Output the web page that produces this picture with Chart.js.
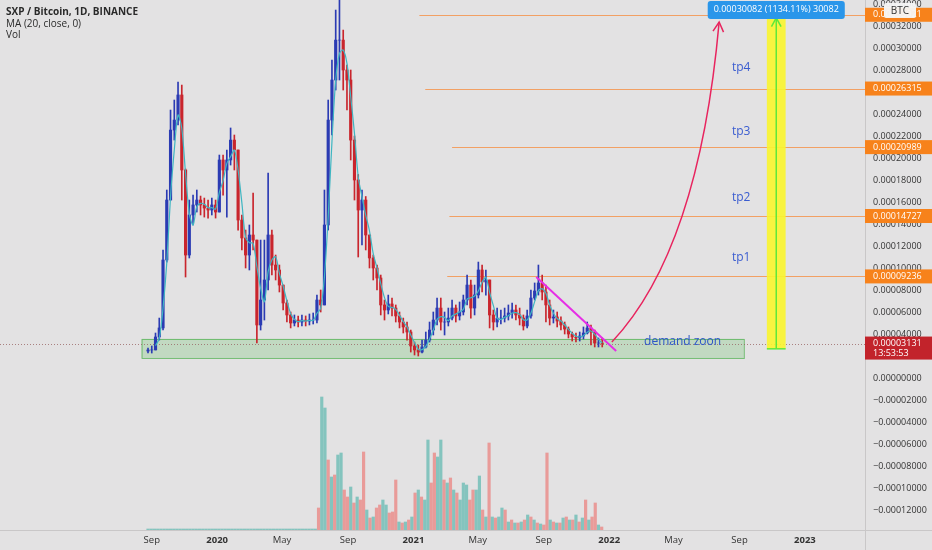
<!DOCTYPE html>
<html>
<head>
<meta charset="utf-8">
<script src="https://cdn.jsdelivr.net/npm/chart.js@4.4.1/dist/chart.umd.min.js"></script>
<style>
html, body { margin: 0; padding: 0; background: #e3e2e3; }
#wrap { width: 932px; height: 550px; }
</style>
</head>
<body>
<div id="wrap"><canvas id="chart" width="932" height="550"></canvas></div>
<script>
// SXP/BTC, prices in satoshi (1e-8 BTC). Weekly candles.
const firstCandle = '2019-08-25';
const firstOpen = 2450;
const closes = [2550,2550,3730,4550,10730,16180,22540,23450,25730,18910,
  11180,14820,15730,16180,15730,15450,15270,15730,15090,19820,
  18910,19820,21630,20730,14360,12730,11180,13000,12540,4820,
  7090,8910,13000,10270,9820,8450,6820,5730,5000,5270,
  5090,5270,5180,5270,5270,7090,6640,13910,23450,27090,
  30720,30720,28000,27090,21630,18000,15270,16180,13000,10910,
  10000,9090,6640,6180,6730,6360,5640,5090,4640,4180,
  2910,2550,2360,2820,3450,4360,5270,6360,5090,5090,
  5450,6360,5640,6000,7090,8450,6360,7550,9820,8730,
  8910,5730,5090,5450,5450,5640,5910,6180,5730,5450,
  4730,5640,7270,7910,8640,7820,6640,5450,5550,5180,
  4820,4450,4000,3730,3640,3820,4090,4550,4180,3180,
  3180,3131];
const highs = [2730,2910,4090,5450,11640,17090,24360,25270,26910,26630,
  19000,16180,16630,17090,16540,16360,16180,16360,16180,20270,
  20270,20730,22730,22090,20730,14820,13450,13910,16820,12540,
  12540,12540,18630,13450,11180,10270,8450,7090,6000,5730,
  5640,5730,5640,5820,5910,7540,8000,17090,25270,28910,
  33450,34540,31630,28450,28000,22000,18500,17090,16500,13000,
  11180,10270,9360,7090,7540,7270,6640,6000,5450,5090,
  4360,3270,3000,3450,4180,5090,6000,7270,7270,6000,
  6360,7090,6640,6910,7540,9360,8910,8450,10540,10270,
  9820,8910,6180,6360,6180,6360,6640,6820,6640,6360,
  5730,6180,8000,8640,10270,9360,8450,7090,6180,6000,
  5550,5090,4640,4180,4090,4180,4640,5090,4820,4360,
  3640,3640];
const lows = [2270,2270,2550,3450,4360,10540,16180,21630,23000,16180,
  9180,10910,13910,15090,14820,14630,14540,14820,14540,15090,
  16630,14630,19360,18910,13450,11640,10000,9820,11640,3180,
  4360,5270,8000,9360,8910,7820,6180,5090,4550,4730,
  4640,4730,4730,4820,4910,5000,6000,6640,13450,22090,
  26180,27090,26180,24360,19820,16180,11000,12090,11640,10000,
  8910,8000,5730,5270,5820,5640,5090,4550,4090,3450,
  2360,2090,2000,2270,2730,3270,3910,4820,4360,3910,
  4730,5270,5090,5270,5730,6640,5450,5730,7270,7820,
  7540,4550,4360,4640,4910,5090,5270,5450,5270,4820,
  4360,4550,5450,7090,7540,7090,5090,4820,5000,4640,
  4360,4000,3640,3360,3270,3360,3550,4000,3000,2820,
  2820,2820];

// volume in 6-day buckets (relative units) and whether the bucket closed up
const firstVolume = '2019-08-25';
const volumes = [1,1,1,1,1,1,1,1,1,1,1,1,1,1,1,1,1,1,1,1,
  1,1,1,1,1,1,1,1,1,1,1,1,1,1,1,1,1,1,1,1,
  1,1,1,1,1,1,1,1,1,1,1,1,1,
  22,133,122,70,53,55,75,77,40,33,43,27,33,30,78,20,12,13,22,25,
  30,25,17,18,50,8,7,8,10,13,37,40,33,30,90,47,77,73,90,50,
  47,52,40,37,30,47,45,30,40,40,54,20,13,87,13,12,13,22,20,8,
  10,7,7,8,10,15,13,10,7,6,5,77,10,8,7,7,12,13,10,10,
  15,8,12,30,10,13,27,5,3];
const volumeUp = [1,1,1,1,1,1,1,1,1,1,1,1,1,1,1,1,1,1,1,1,
  1,1,1,1,1,1,1,1,1,1,1,1,1,1,1,1,1,1,1,1,
  1,1,1,1,1,1,1,1,1,1,1,1,1,
  0,1,1,0,1,0,1,1,0,0,
  1,0,1,0,0,1,0,1,0,0,
  1,1,0,0,0,1,0,1,0,1,
  0,1,0,1,1,0,0,1,1,0,
  1,0,1,0,1,1,1,0,0,1,
  1,0,1,0,1,0,1,1,0,1,
  0,1,0,1,0,1,0,1,0,1,
  0,0,1,0,1,0,1,0,1,0,
  1,0,1,0,1,0,0,1,0];

// axes
const tickDates = ['2019-09-01','2020-01-01','2020-05-01','2020-09-01','2021-01-01','2021-05-01',
  '2021-09-01','2022-01-01','2022-05-01','2022-09-01','2023-01-01'];
const tickLabels = ['Sep','2020','May','Sep','2021','May','Sep','2022','May','Sep','2023'];
const priceTicks = [34000,32000,30000,28000,26000,24000,22000,20000,18000,16000,14000,12000,
  10000,8000,6000,4000,2000,0,-2000,-4000,-6000,-8000,-10000,-12000];

// drawings
const lastPrice = 3131;
const zoneFrom = '2019-08-13', zoneTo = '2022-09-09', zoneLow = 1820, zoneHigh = 3550;
const targetLevels = [33021, 26315, 20989, 14727, 9236];
const targetStarts = ['2021-01-12','2021-01-23','2021-03-14','2021-03-09','2021-03-05'];
const tpNames = ['tp4','tp3','tp2','tp1'];
const tpLevels = [28180, 22360, 16360, 10910];
const tpDate = '2022-09-04';
const trendFrom = ['2021-08-18', 9181], trendTo = ['2022-01-14', 2454];
const arrowFrom = ['2022-01-06', 3272], arrowBend = ['2022-06-17', 11635], arrowTo = ['2022-07-25', 32360];
const measureFrom = '2022-10-22', measureTo = '2022-11-26', measureLow = 2652, measureHigh = 32734;
const measureText = '0.00030082 (1134.11%) 30082';

const BG = '#e3e2e3';
const UP = '#2b3bb3', DOWN = '#c9252d';
const FONT = '"Open Sans", sans-serif';

const origin = Date.UTC(2019, 8, 1);
function dayOf(s) {
  const [y, m, d] = s.split('-').map(Number);
  return (Date.UTC(y, m - 1, d) - origin) / 86400000;
}

const opens = [firstOpen, ...closes.slice(0, -1)];
const candleDay = i => dayOf(firstCandle) + 7 * i;
const isUp = i => closes[i] >= opens[i];

// MA(20) daily ~ 3 weekly closes
const ma = [];
closes.forEach((c, i) => {
  if (i < 2) return;
  ma.push({ x: candleDay(i), y: (closes[i] + closes[i - 1] + closes[i - 2]) / 3 });
});

const wickData = closes.map((c, i) => ({ x: candleDay(i), y: [lows[i], highs[i]] }));
const bodyData = closes.map((c, i) => ({ x: candleDay(i), y: [opens[i], c] }));
const volData = volumes.map((v, i) => ({ x: dayOf(firstVolume) + 6 * i, y: v }));
const volColors = volumeUp.map(u => u ? 'rgba(38,166,154,0.5)' : 'rgba(239,83,80,0.5)');

function arrowHead(c, tx, ty, fx, fy, len) {
  const a = Math.atan2(ty - fy, tx - fx);
  c.beginPath();
  c.moveTo(tx - len * Math.cos(a - 0.5), ty - len * Math.sin(a - 0.5));
  c.lineTo(tx, ty);
  c.lineTo(tx - len * Math.cos(a + 0.5), ty - len * Math.sin(a + 0.5));
  c.stroke();
}

function axisLabel(c, x0, w, yc, h, fill, lines) {
  c.fillStyle = fill;
  c.fillRect(x0, yc - 7, w, h);
  c.fillStyle = '#ffffff';
  c.font = '9px ' + FONT;
  c.textAlign = 'left';
  c.textBaseline = 'middle';
  lines.forEach((t, k) => c.fillText(t, x0 + 8, yc + k * 10));
}

const fmt = v => (v < 0 ? '\u2212' : '') + (Math.abs(v) / 1e8).toFixed(8);

const overlay = {
  id: 'overlay',
  beforeDraw(chart) {
    const c = chart.ctx;
    c.save();
    c.fillStyle = BG;
    c.fillRect(0, 0, chart.width, chart.height);
    c.restore();
  },
  beforeDatasetsDraw(chart) {
    const c = chart.ctx, x = chart.scales.x, y = chart.scales.y, area = chart.chartArea;
    c.save();
    // demand zone
    const zx0 = x.getPixelForValue(dayOf(zoneFrom)), zx1 = x.getPixelForValue(dayOf(zoneTo));
    const zy0 = y.getPixelForValue(zoneHigh), zy1 = y.getPixelForValue(zoneLow);
    c.fillStyle = 'rgba(120,200,120,0.32)';
    c.fillRect(zx0, zy0, zx1 - zx0, zy1 - zy0);
    c.strokeStyle = 'rgba(90,180,90,0.8)';
    c.lineWidth = 1;
    c.strokeRect(zx0 + 0.5, zy0 + 0.5, zx1 - zx0, zy1 - zy0);
    // target lines
    c.strokeStyle = '#f2a064';
    targetLevels.forEach((lv, i) => {
      const py = Math.round(y.getPixelForValue(lv)) + 0.5;
      c.beginPath();
      c.moveTo(x.getPixelForValue(dayOf(targetStarts[i])), py);
      c.lineTo(area.right, py);
      c.stroke();
    });
    // last price
    const lp = Math.round(y.getPixelForValue(lastPrice)) + 0.5;
    c.strokeStyle = 'rgba(150,95,95,0.75)';
    c.setLineDash([1, 2]);
    c.beginPath();
    c.moveTo(area.left, lp);
    c.lineTo(area.right, lp);
    c.stroke();
    c.restore();
  },
  afterDatasetsDraw(chart) {
    const c = chart.ctx, x = chart.scales.x, y = chart.scales.y;
    const P = p => [x.getPixelForValue(dayOf(p[0])), y.getPixelForValue(p[1])];
    c.save();
    // trend line
    const t0 = P(trendFrom), t1 = P(trendTo);
    c.strokeStyle = '#e62ee6';
    c.lineWidth = 2;
    c.beginPath(); c.moveTo(t0[0], t0[1]); c.lineTo(t1[0], t1[1]); c.stroke();
    // projected path
    const a0 = P(arrowFrom), a1 = P(arrowBend), a2 = P(arrowTo);
    c.strokeStyle = '#e8245e';
    c.lineWidth = 1.5;
    c.beginPath(); c.moveTo(a0[0], a0[1]); c.quadraticCurveTo(a1[0], a1[1], a2[0], a2[1]); c.stroke();
    arrowHead(c, a2[0], a2[1], a1[0], a1[1], 11);
    // measure
    const mx0 = x.getPixelForValue(dayOf(measureFrom)), mx1 = x.getPixelForValue(dayOf(measureTo));
    const my0 = y.getPixelForValue(measureHigh), my1 = y.getPixelForValue(measureLow);
    c.fillStyle = 'rgba(250,245,45,0.9)';
    c.fillRect(mx0, my0, mx1 - mx0, my1 - my0);
    const mc = (mx0 + mx1) / 2;
    c.strokeStyle = '#5fe83a';
    c.lineWidth = 1.5;
    c.beginPath(); c.moveTo(mc, my1); c.lineTo(mc, my0); c.stroke();
    c.beginPath(); c.moveTo(mx0, my1); c.lineTo(mx1, my1); c.stroke();
    arrowHead(c, mc, my0, mc, my1, 10);
    // measure label
    c.font = '9px ' + FONT;
    const tw = c.measureText(measureText).width + 12;
    c.fillStyle = '#2a96ea';
    c.beginPath();
    c.roundRect(mc - tw / 2, my0 - 17, tw, 18, 3);
    c.fill();
    c.fillStyle = '#ffffff';
    c.textAlign = 'center';
    c.textBaseline = 'middle';
    c.fillText(measureText, mc, my0 - 8);
    // text notes
    c.fillStyle = '#3a5cd0';
    c.font = '12px ' + FONT;
    tpNames.forEach((n, i) => c.fillText(n, x.getPixelForValue(dayOf(tpDate)), y.getPixelForValue(tpLevels[i])));
    c.fillStyle = '#2c55c8';
    c.textAlign = 'left';
    c.fillText('demand zoon', x.getPixelForValue(dayOf('2022-03-07')), y.getPixelForValue(3270));
    c.restore();
  },
  afterDraw(chart) {
    const c = chart.ctx, y = chart.scales.y, area = chart.chartArea;
    c.save();
    // separators
    c.strokeStyle = '#c9c7c8';
    c.lineWidth = 1;
    c.beginPath();
    c.moveTo(area.right + 0.5, 0); c.lineTo(area.right + 0.5, chart.height);
    c.moveTo(0, area.bottom + 0.5); c.lineTo(chart.width, area.bottom + 0.5);
    c.stroke();
    const w = chart.width - area.right;
    targetLevels.forEach(lv => axisLabel(c, area.right, w, y.getPixelForValue(lv), 14, '#f7821b', [fmt(lv)]));
    axisLabel(c, area.right, w, y.getPixelForValue(lastPrice), 23, '#c2232b', [fmt(lastPrice), '13:53:53']);
    // currency tag
    c.fillStyle = 'rgba(245,245,245,0.95)';
    c.beginPath(); c.roundRect(884, 3, 32, 15, 2); c.fill();
    c.fillStyle = '#333';
    c.font = '10px ' + FONT;
    c.textAlign = 'center';
    c.textBaseline = 'middle';
    c.fillText('BTC', 900, 11);
    // legend
    c.textAlign = 'left';
    c.fillStyle = '#2a2a2a';
    c.font = 'bold 10px ' + FONT;
    c.fillText('SXP / Bitcoin, 1D, BINANCE', 6, 12);
    c.font = '10px ' + FONT;
    c.fillText('MA (20, close, 0)', 6, 24);
    c.fillText('Vol', 6, 35);
    c.restore();
  }
};

new Chart(document.getElementById('chart'), {
  type: 'bar',
  data: {
    datasets: [
      {
        type: 'line', data: ma, borderColor: '#3fb6c2', borderWidth: 1.2,
        pointRadius: 0, tension: 0.3, order: 0
      },
      {
        data: bodyData, barThickness: 2.5, grouped: false, order: 1,
        backgroundColor: closes.map((c, i) => isUp(i) ? UP : DOWN)
      },
      {
        data: wickData, barThickness: 1, grouped: false, order: 2,
        backgroundColor: closes.map((c, i) => isUp(i) ? UP : DOWN)
      },
      {
        data: volData, yAxisID: 'vol', barThickness: 2.5, grouped: false, order: 3,
        backgroundColor: volColors
      }
    ]
  },
  options: {
    responsive: false,
    animation: false,
    layout: { padding: 0 },
    plugins: { legend: { display: false }, tooltip: { enabled: false } },
    scales: {
      x: {
        type: 'linear',
        offset: false,
        min: dayOf('2018-11-22'),
        max: dayOf('2023-04-23'),
        grid: { display: false, drawTicks: false },
        border: { display: false },
        afterBuildTicks: s => { s.ticks = tickDates.map(d => ({ value: dayOf(d) })); },
        afterFit: s => { s.height = 20; s.paddingLeft = 0; s.paddingRight = 0; },
        ticks: {
          autoSkip: false, maxRotation: 0, padding: 5, color: '#333',
          font: ctx => ({ family: FONT, size: 9.5, weight: /^\d/.test(tickLabels[ctx.index]) ? 'bold' : 'normal' }),
          callback: (v, i) => tickLabels[i]
        }
      },
      y: {
        position: 'right',
        min: -13818,
        max: 34364,
        grid: { display: false, drawTicks: false },
        border: { display: false },
        afterBuildTicks: s => { s.ticks = priceTicks.map(v => ({ value: v })); },
        afterFit: s => { s.width = 67; s.paddingTop = 0; s.paddingBottom = 0; },
        ticks: {
          padding: 8, color: '#333', font: { family: FONT, size: 9 },
          callback: v => fmt(v)
        }
      },
      vol: {
        display: false,
        min: 0,
        max: 530
      }
    }
  },
  plugins: [overlay]
});
</script>
</body>
</html>
